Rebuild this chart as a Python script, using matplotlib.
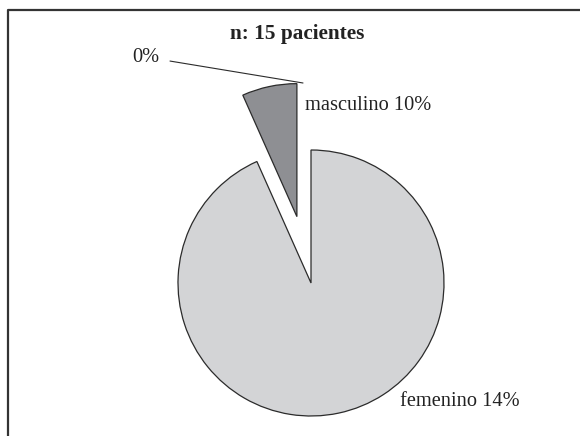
import matplotlib

matplotlib.use("Agg")
import matplotlib.pyplot as plt

# data
categories = ["masculino", "femenino"]
patients = [1, 14]
label_texts = ["masculino 10%", "femenino 14%"]
zero_label = "0%"
title = "n: 15 pacientes"

COLORS = ["#8e8f93", "#d3d4d6"]
EDGE = "#2b2b2b"
TEXT = "#222222"

plt.rcParams["font.family"] = ["Liberation Serif", "DejaVu Serif"]

fig = plt.figure(figsize=(5.8, 4.36), dpi=100)
ax = fig.add_axes([0, 0, 1, 1])

# pixel-like frame: x to the right, y upward
H = 436
center = (311, H - 283)
radius = 133

ax.pie(
    patients,
    colors=COLORS,
    startangle=90,
    counterclock=True,
    explode=[0.51 * radius, 0],
    center=center,
    radius=radius,
    wedgeprops=dict(edgecolor=EDGE, linewidth=0.9),
)
ax.set_xlim(0, 580)
ax.set_ylim(0, H)
ax.set_aspect("equal")
ax.axis("off")

# partial frame (top and left edges, as in the cropped original)
ax.plot([7.5, 7.5, 580], [0, H - 10.5, H - 10.5], color="#333333", lw=1.6,
        solid_capstyle="butt", clip_on=False)

ax.text(297, H - 34, title, ha="center", va="center",
        fontsize=15.3, fontweight="bold", color=TEXT)

ax.text(305, H - 106, label_texts[0], ha="left", va="center",
        fontsize=14.7, color=TEXT)
ax.text(400, H - 402, label_texts[1], ha="left", va="center",
        fontsize=14.7, color=TEXT)

ax.annotate(
    zero_label, xy=(303, H - 83), xytext=(159, H - 57),
    ha="right", va="center", fontsize=14.7, color=TEXT,
    arrowprops=dict(arrowstyle="-", color=EDGE, lw=0.8, shrinkA=6, shrinkB=0),
)

fig.savefig("out.png", dpi=100)
